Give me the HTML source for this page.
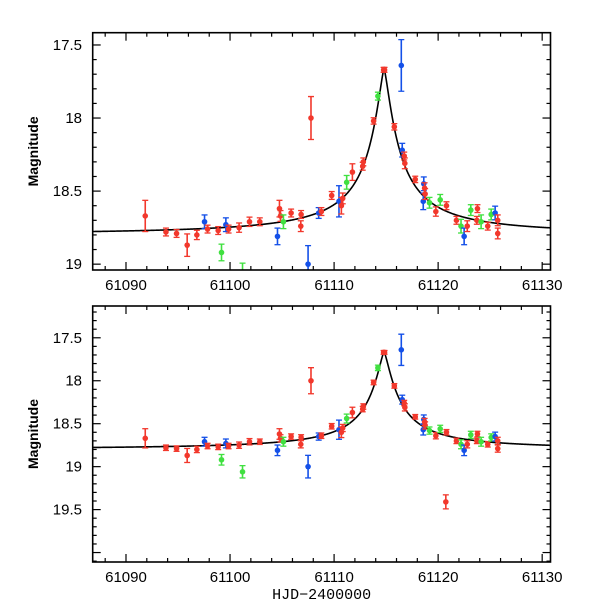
<!DOCTYPE html>
<html><head><meta charset="utf-8"><style>
html,body{margin:0;padding:0;background:#fff;}
svg{display:block;font-family:"Liberation Sans",sans-serif;}
</style></head><body>
<svg id="chart" width="600" height="600" viewBox="0 0 600 600"></svg>
<script>
const days = [61091.85,61093.84,61094.86,61095.88,61096.81,61097.55,61097.84,61098.86,61099.18,61099.6,61099.86,61100.87,61101.2,61101.87,61102.86,61104.56,61104.75,61104.85,61105.13,61105.87,61106.83,61106.8,61107.78,61107.5,61108.52,61108.78,61109.77,61110.47,61110.7,61110.83,61111.21,61111.76,61112.75,61112.81,61113.8,61114.21,61114.76,61114.85,61116.46,61115.79,61116.55,61116.74,61116.8,61117.8,61118.57,61118.62,61118.7,61118.75,61119.17,61119.78,61120.2,61120.74,61120.8,61121.76,61122.2,61122.5,61122.8,61123.14,61123.78,61123.72,61124.13,61124.77,61125.1,61125.48,61125.73,61125.73];
const mags = [18.67,18.78,18.79,18.87,18.80,18.71,18.76,18.77,18.92,18.73,18.76,18.75,19.06,18.71,18.71,18.81,18.62,18.67,18.71,18.65,18.66,18.74,18.0,19.0,18.65,18.64,18.53,18.57,18.60,18.55,18.44,18.37,18.33,18.30,18.02,17.85,17.67,17.67,17.64,18.06,18.22,18.26,18.31,18.42,18.57,18.45,18.48,18.52,18.58,18.64,18.56,19.41,18.60,18.70,18.74,18.81,18.74,18.63,18.62,18.70,18.71,18.74,18.66,18.65,18.70,18.79];
const errs = [0.1,0.02,0.02,0.07,0.025,0.04,0.02,0.02,0.05,0.04,0.02,0.025,0.06,0.025,0.02,0.05,0.05,0.03,0.04,0.02,0.02,0.03,0.14,0.12,0.03,0.02,0.02,0.1,0.05,0.03,0.04,0.05,0.02,0.02,0.015,0.02,0.01,0.01,0.17,0.015,0.04,0.02,0.03,0.015,0.05,0.04,0.03,0.03,0.03,0.025,0.03,0.07,0.02,0.02,0.04,0.05,0.03,0.03,0.02,0.02,0.04,0.02,0.03,0.04,0.03,0.03];
const bands = ["r","r","r","r","r","b","r","r","g","b","r","r","g","r","r","b","r","r","g","r","r","r","r","b","b","r","r","b","r","r","g","r","r","r","r","g","r","r","b","r","b","r","r","r","b","b","r","r","g","r","g","r","r","r","g","b","r","g","r","r","g","r","g","b","r","r"];
const xTicks = [61090,61100,61110,61120,61130];
const yTicksTop = [17.5,18,18.5,19];
const yTicksBot = [17.5,18,18.5,19,19.5];
const modelBase = 18.80, modelPeakT = 61114.8, modelAmp = 1.85, modelW = 1.05, modelP = 1.35;

const NS = "http://www.w3.org/2000/svg";
const svg = document.getElementById('chart');
const colors = {r:"#f2382c", b:"#1450e8", g:"#40e040"};
function mk(tag, attrs, parent){const e=document.createElementNS(NS,tag);for(const k in attrs)e.setAttribute(k,attrs[k]);(parent||svg).appendChild(e);return e;}
function model(t){const f=modelAmp/(1+Math.pow(Math.abs(t-modelPeakT)/modelW,modelP));return modelBase-2.5*Math.log10(1+f);}

const X0=92.7, X1=550.5, T0=61086.8, T1=61130.8;
function xs(t){return X0+(t-T0)/(T1-T0)*(X1-X0);}

function panel(name, top, bot, mTop, mBot, yTicks, showXTitle){
  const ys = m => top+(m-mTop)/(mBot-mTop)*(bot-top);
  const g = mk('g',{});
  
  
  const cid='clip-'+name;
  const cp=mk('clipPath',{id:cid},g); mk('rect',{x:X0,y:top,width:X1-X0,height:bot-top},cp);
  let d='';
  for(let t=T0;t<=T1;t+=0.05){d+=(d?'L':'M')+xs(t).toFixed(2)+','+ys(model(t)).toFixed(2);}
  const curve=mk('path',{d:d,fill:'none',stroke:'#000','stroke-width':1.6,'clip-path':'url(#'+cid+')'},g);
  
  
  const pts=mk('g',{'clip-path':'url(#'+cid+')'},g);
  for(let i=0;i<days.length;i++){
    const c=colors[bands[i]], x=xs(days[i]), y=ys(mags[i]), y1=ys(mags[i]-errs[i]), y2=ys(mags[i]+errs[i]);
    const pg=mk('g',{stroke:c,fill:c},pts);
    
    
    mk('line',{x1:x,x2:x,y1:y1-1,y2:y2+1,'stroke-width':1.6},pg);
    mk('line',{x1:x-3,x2:x+3,y1:y1-1,y2:y1-1,'stroke-width':1.3},pg);
    mk('line',{x1:x-3,x2:x+3,y1:y2+1,y2:y2+1,'stroke-width':1.3},pg);
    mk('circle',{cx:x,cy:y,r:2.8,stroke:'none'},pg);
  }
  const fr=mk('rect',{x:X0,y:top,width:X1-X0,height:bot-top,fill:'none',stroke:'#000','stroke-width':1.6},g);
  
  
  for(let t=61088;t<=61130;t+=2){
    const x=xs(t), maj=(t%10===0), L=maj?8:4;
    mk('line',{x1:x,x2:x,y1:bot,y2:bot-L,stroke:'#000','stroke-width':1.2},g);
    mk('line',{x1:x,x2:x,y1:top,y2:top+L,stroke:'#000','stroke-width':1.2},g);
  }
  xTicks.forEach(t=>{
    const tx=mk('text',{x:xs(t),y:bot+20,'text-anchor':'middle','font-size':15},g);
    tx.textContent=t;
    
    
  });
  for(let k=Math.ceil(mTop*10);k<=Math.floor(mBot*10);k++){
    const m=k/10, y=ys(m), maj=(k%5===0), L=maj?8:4;
    mk('line',{x1:X0,x2:X0+L,y1:y,y2:y,stroke:'#000','stroke-width':1.2},g);
    mk('line',{x1:X1,x2:X1-L,y1:y,y2:y,stroke:'#000','stroke-width':1.2},g);
  }
  yTicks.forEach(m=>{
    const tx=mk('text',{x:82,y:ys(m)+5,'text-anchor':'end','font-size':15},g);
    tx.textContent=m;
    
    
  });
  const yt=mk('text',{x:0,y:0,'text-anchor':'middle','font-size':14,'font-weight':'bold',transform:'translate(38,'+((top+bot)/2)+') rotate(-90)'},g);
  yt.textContent='Magnitude';
  
  
  if(showXTitle){
    const xt=mk('text',{x:(X0+X1)/2,y:bot+37,'text-anchor':'middle','font-size':15,'font-family':'Liberation Mono, monospace'},g);
    xt.textContent='HJD\u22122400000';
    
    
  }
}
panel('top-panel', 32.7, 270, 17.416, 19.04, yTicksTop, false);
panel('bottom-panel', 306, 562, 17.13, 20.11, yTicksBot, true);
</script>
</body></html>
